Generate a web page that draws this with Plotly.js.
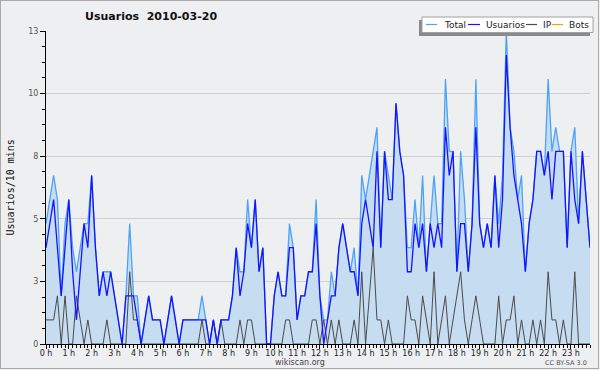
<!DOCTYPE html>
<html><head><meta charset="utf-8">
<script src="https://cdn.plot.ly/plotly-3.0.1.min.js"></script>
<style>
html,body{margin:0;padding:0;background:#eeeff1;}
#chart{width:600px;height:370px;}
#frame{position:absolute;left:0;top:0;width:599px;height:369px;box-sizing:border-box;border:1px solid #aaaaaa;pointer-events:none;}
</style></head>
<body><div id="chart"></div><div id="frame"></div>
<script>
const hourLabels = ['0 h','1 h','2 h','3 h','4 h','5 h','6 h','7 h','8 h','9 h','10 h','11 h','12 h','13 h','14 h','15 h','16 h','17 h','18 h','19 h','20 h','21 h','22 h','23 h'];
const yTickVals = [0, 2.6, 5.2, 7.8, 10.4, 13];
const yTickText = ['0', '3', '5', '8', '10', '13'];

const total = [
 5,6,7,6,2,5,6,4,3,4,
 5,5,7,4,2,3,3,3,2,1,
 0,2,5,2,2,0,1,2,1,1,
 1,0,1,2,1,0,1,1,1,1,
 1,2,1,0,1,0,1,1,1,2,
 4,3,3,6,4,6,3,4,0,0,
 2,3,2,2,5,4,1,2,2,3,
 3,6,2,1,1,3,2,4,5,4,
 3,4,2,7,6,7,8,9,4,8,
 7,6,10,8,7,4,4,6,4,7,
 3,5,7,5,5,11,8,8,3,8,
 6,3,5,11,5,4,5,4,7,5,
 7,13,9,8,6,7,3,5,6,8,
 8,7,11,8,9,8,8,4,8,9,
 5,8,6,4];
const usuarios = [
 4,5,6,4,2,4,6,3,1,3,
 5,4,7,4,2,3,2,3,2,1,
 0,2,2,2,1,0,1,2,1,1,
 1,0,1,2,1,0,1,1,1,1,
 1,1,1,0,1,0,1,1,1,2,
 4,2,3,5,4,6,3,4,0,0,
 2,3,2,2,4,4,1,2,2,3,
 3,5,2,0,1,2,2,4,5,4,
 3,3,2,5,6,5,4,8,4,8,
 6,6,10,8,7,3,3,5,4,5,
 3,5,4,5,4,9,7,8,3,5,
 5,3,5,9,5,4,5,4,7,4,
 6,12,9,7,6,5,3,5,6,8,
 8,7,8,6,8,8,8,4,8,6,
 5,8,6,4];
const ip = [
 1,1,1,2,0,2,0,0,2,1,
 0,1,0,0,0,0,1,0,0,0,
 0,0,3,1,1,0,0,0,0,0,
 0,0,0,0,0,0,0,0,0,0,
 0,1,0,0,1,0,1,0,0,0,
 0,1,0,1,1,0,0,0,0,0,
 0,0,0,1,1,0,0,0,0,0,
 1,1,0,1,0,1,0,1,0,0,
 0,1,0,3,0,2,4,1,1,0,
 1,0,0,0,0,2,1,1,0,2,
 1,0,3,0,1,2,0,1,2,3,
 1,0,1,2,1,0,0,0,0,2,
 0,1,1,2,0,1,0,0,1,0,
 1,0,3,1,1,0,1,0,0,3,
 0,0,0,0];
const bots = [
 0,0,0,0,0,0,0,0,0,0, 0,0,0,0,0,0,0,0,0,0,
 0,0,0,0,0,0,0,0,0,0, 0,0,0,0,0,0,0,0,0,0,
 0,0,0,0,0,0,0,0,0,0, 0,0,0,0,0,0,0,0,0,0,
 0,0,0,0,0,0,0,0,0,0, 0,0,0,0,0,0,0,0,0,0,
 0,0,0,0,0,0,0,0,0,0, 0,0,0,0,0,0,0,0,0,0,
 0,0,0,0,0,0,0,0,0,0, 0,0,0,0,0,0,0,0,0,0,
 0,0,0,0,0,0,0,0,0,0, 0,0,0,0,0,0,0,0,0,0,
 0,0,0,0];
const seriesNames = ['Total', 'Usuarios', 'IP', 'Bots'];
const seriesColors = ['#4da3f5', '#1414ff', '#4a4a4a', '#ff9900'];

const slotMinutes = 10;
const x = total.map((_, i) => i * slotMinutes / 60);
const xMax = (total.length - 1) * slotMinutes / 60;

const traces = [
  {x: x, y: bots, name: seriesNames[3], mode: 'lines', line: {color: seriesColors[3], width: 1}},
  {x: x, y: total, name: seriesNames[0], mode: 'lines', fill: 'tozeroy', fillcolor: '#c6dcf0', line: {color: seriesColors[0], width: 1.3}},
  {x: x, y: ip, name: seriesNames[2], mode: 'lines', line: {color: seriesColors[2], width: 1}},
  {x: x, y: usuarios, name: seriesNames[1], mode: 'lines', line: {color: seriesColors[1], width: 1.3}}
];

const L = 46, T = 31, W = 544, H = 313;
const px = v => (v - L) / W;
const py = v => (T + H - v) / H;

const legendItems = [
  {name: seriesNames[0], color: seriesColors[0], x0: 426, x1: 437, tx: 442},
  {name: seriesNames[1], color: seriesColors[1], x0: 468, x1: 480, tx: 484},
  {name: seriesNames[2], color: seriesColors[2], x0: 526, x1: 537, tx: 541},
  {name: seriesNames[3], color: seriesColors[3], x0: 552, x1: 563, tx: 567}
];
const shapes = [
  {type: 'rect', xref: 'paper', yref: 'paper', x0: px(419), x1: px(590), y0: py(20), y1: py(36), fillcolor: '#8a8a8a', line: {width: 0}, layer: 'above'},
  {type: 'rect', xref: 'paper', yref: 'paper', x0: px(422), x1: px(593), y0: py(17), y1: py(32.5), fillcolor: '#ffffff', line: {color: '#a0a0a0', width: 1}, layer: 'above'}
];
const annotations = [];
legendItems.forEach(it => {
  shapes.push({type: 'line', xref: 'paper', yref: 'paper', x0: px(it.x0), x1: px(it.x1), y0: py(24.5), y1: py(24.5), line: {color: it.color, width: 1.2}, layer: 'above'});
  annotations.push({xref: 'paper', yref: 'paper', x: px(it.tx), y: py(24.5), xanchor: 'left', yanchor: 'middle', text: it.name, showarrow: false, font: {family: 'DejaVu Sans', size: 9, color: '#222'}});
});
annotations.push({xref: 'paper', yref: 'paper', x: px(10), y: 0.5, text: 'Usuarios/10 mins', textangle: -90, showarrow: false, xanchor: 'center', yanchor: 'middle', font: {family: 'DejaVu Sans Mono', size: 10, color: '#111'}});
annotations.push({xref: 'paper', yref: 'paper', x: px(300), y: py(362), text: 'wikiscan.org', showarrow: false, xanchor: 'center', yanchor: 'middle', font: {family: 'DejaVu Sans', size: 8, color: '#444'}});
annotations.push({xref: 'paper', yref: 'paper', x: px(589), y: py(363), text: 'CC BY-SA 3.0', showarrow: false, xanchor: 'right', yanchor: 'middle', font: {family: 'DejaVu Sans', size: 6.5, color: '#555'}});

const layout = {
  width: 600, height: 370,
  margin: {l: L, r: 600 - L - W, t: T, b: 370 - T - H, pad: 0},
  paper_bgcolor: '#eeeff1', plot_bgcolor: '#eeeff1',
  showlegend: false,
  title: {text: 'Usuarios\u00a0 2010-03-20', x: 85 / 600, xanchor: 'left', xref: 'container', y: 1 - 16.5 / 370, yanchor: 'middle', yref: 'container', font: {family: 'DejaVu Sans', size: 11, weight: 'bold', color: '#111'}},
  xaxis: {range: [0, xMax], tickmode: 'array', tickvals: hourLabels.map((_, h) => h), ticktext: hourLabels,
    ticks: 'outside', ticklen: 4, tickcolor: '#000', tickwidth: 1, showline: true, linecolor: '#000', linewidth: 1,
    ticklabelstandoff: -3,
    showgrid: false, zeroline: false, tickfont: {family: 'DejaVu Sans', size: 8, color: '#222'},
    minor: {tickmode: 'linear', tick0: 0, dtick: slotMinutes / 60, ticks: 'outside', ticklen: 3, tickcolor: '#000', showgrid: false}},
  yaxis: {range: [0, 13], tickmode: 'array', tickvals: yTickVals, ticktext: yTickText,
    ticks: 'outside', ticklen: 5, tickcolor: '#000', showline: true, linecolor: '#000', linewidth: 1,
    showgrid: true, gridcolor: '#cfcfcf', gridwidth: 1, zeroline: false, tickfont: {family: 'DejaVu Sans', size: 8, color: '#555'},
    minor: {tickmode: 'linear', tick0: 0, dtick: 0.65, ticks: 'outside', ticklen: 3, tickcolor: '#000', showgrid: false}},
  shapes: shapes, annotations: annotations
};
Plotly.newPlot('chart', traces, layout, {staticPlot: true, displayModeBar: false});
</script></body></html>
